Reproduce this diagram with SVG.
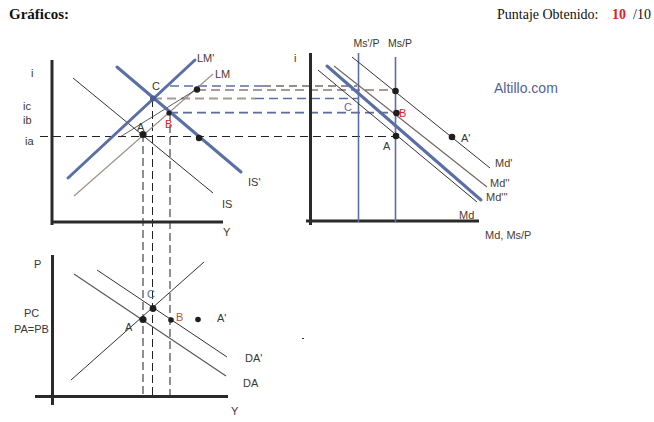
<svg xmlns="http://www.w3.org/2000/svg" width="654" height="422" viewBox="0 0 654 422">
<style>
.ax{stroke:#2a2a2a;stroke-width:3;fill:none}
.thin{stroke:#333;stroke-width:1;fill:none}
.taupe{stroke:#9c8f88;stroke-width:1.1;fill:none}
.blue{stroke:#5a6fa5;stroke-width:3;fill:none;stroke-linecap:round}
.vblue{stroke:#5a6fa5;stroke-width:1.6;fill:none}
.dk{stroke:#222;stroke-width:1.1;stroke-dasharray:8,5;fill:none}
.dt{stroke:#a89a92;stroke-width:2;stroke-dasharray:9,5;fill:none}
.db{stroke:#5a6fa5;stroke-width:1.6;stroke-dasharray:9,5;fill:none}
.dv{stroke:#222;stroke-width:1;stroke-dasharray:8,4;fill:none}
.dot{fill:#1e1e1e}
text{font-family:"Liberation Sans",Arial,sans-serif;font-size:11px;fill:#3a3633}
.red{fill:#e02020}
.org{fill:#b8582e}
.hdr{font-family:"Liberation Serif","Times New Roman",serif;font-size:14px;fill:#111}
</style>
<rect width="654" height="422" fill="#fff"/>
<g id="header">
<text class="hdr" x="9" y="19" style="font-weight:bold;font-size:15px">Gráficos:</text>
<text class="hdr" x="497" y="19">Puntaje Obtenido:</text>
<text class="hdr red" x="612" y="19" style="font-weight:bold;fill:#e02020">10</text>
<text class="hdr" x="633" y="19">/10</text>
<text x="494" y="93" style="font-size:14px;fill:#55609a">Altillo.com</text>
</g>
<g id="connectors">
<line class="db" x1="170" y1="86" x2="263" y2="86"/>
<line class="dk" x1="263" y1="86" x2="357" y2="86"/>
<line class="dt" x1="197" y1="90" x2="395" y2="90"/>
<line class="dt" x1="153" y1="98.5" x2="255" y2="98.5"/>
<line class="db" x1="255" y1="98.5" x2="358" y2="98.5"/>
<line class="dt" x1="169" y1="113.5" x2="396" y2="113.5" style="stroke-width:1.2;opacity:0.6"/>
<line class="db" x1="169" y1="112.5" x2="396" y2="112.5"/>
<line class="dk" x1="40" y1="136.5" x2="396" y2="136.5"/>
<line class="dv" x1="143" y1="134" x2="143" y2="397"/>
<line class="dv" x1="152.5" y1="99" x2="152.5" y2="397"/>
<line class="dv" x1="170" y1="113" x2="170" y2="397"/>
</g>
<g id="chart-islm">
<line class="ax" x1="52" y1="60" x2="52" y2="225"/>
<line class="ax" x1="51" y1="222" x2="223" y2="222"/>
<line class="thin" x1="73" y1="78" x2="213" y2="193"/>
<line class="taupe" x1="74" y1="196" x2="213" y2="74"/>
<line class="thin" x1="120" y1="137" x2="197" y2="89" style="stroke-width:0.8"/>
<line class="blue" x1="68" y1="178" x2="195" y2="60"/>
<line class="blue" x1="117" y1="67" x2="241" y2="172"/>
<circle class="dot" cx="143" cy="134.5" r="3.6"/>
<circle cx="153" cy="98.5" r="3" fill="#4a5d90"/>
<circle class="dot" cx="169" cy="113" r="2.6"/>
<circle class="dot" cx="197" cy="89.5" r="3.2"/>
<circle class="dot" cx="199" cy="138" r="3.2"/>
<text x="31" y="77">i</text>
<text x="23" y="110">ic</text>
<text x="23" y="124">ib</text>
<text x="25" y="145">ia</text>
<text x="197" y="62" style="fill:#4e3a30">LM'</text>
<text x="215" y="78" style="fill:#4e3a30">LM</text>
<text x="152" y="90">C</text>
<text x="137" y="131">A</text>
<text class="red" x="165" y="128">B</text>
<text x="248" y="186">IS'</text>
<text x="222" y="208">IS</text>
<text x="223" y="236">Y</text>
</g>
<g id="chart-money">
<line class="ax" x1="310.5" y1="53" x2="310.5" y2="225"/>
<line class="ax" x1="306" y1="221" x2="479" y2="221"/>
<line class="vblue" x1="358.5" y1="53" x2="358.5" y2="222"/>
<line class="vblue" x1="395.5" y1="57" x2="395.5" y2="222"/>
<line class="thin" x1="352" y1="57" x2="490" y2="168"/>
<line class="taupe" x1="334" y1="66" x2="487" y2="187" style="stroke:#6e6460"/>
<line class="thin" x1="318" y1="70" x2="477" y2="202"/>
<line class="blue" x1="327" y1="66" x2="481" y2="200"/>
<circle class="dot" cx="395.5" cy="91" r="3.3"/>
<circle class="dot" cx="396.5" cy="113" r="3.3"/>
<circle class="dot" cx="396" cy="136" r="3.3"/>
<circle class="dot" cx="452" cy="137" r="3.3"/>
<text x="294" y="62">i</text>
<text x="366.5" y="47" text-anchor="middle" style="font-size:10.5px">Ms'/P</text>
<text x="400" y="47" text-anchor="middle" style="font-size:10.5px">Ms/P</text>
<text x="344" y="111" style="fill:#5a6a9a">C</text>
<text class="red" x="399" y="117">B</text>
<text x="383" y="150">A</text>
<text x="461" y="142">A'</text>
<text x="495" y="167" style="fill:#4e3a30">Md'</text>
<text x="490" y="187" style="fill:#4e3a30">Md''</text>
<text x="486" y="201" style="fill:#4e3a30">Md'''</text>
<text x="459" y="219" style="fill:#4e3a30">Md</text>
<text x="485" y="239" style="fill:#4e3a30">Md, Ms/P</text>
</g>
<g id="chart-dao">
<line class="ax" x1="52.5" y1="255" x2="52.5" y2="405"/>
<line class="ax" x1="35" y1="396.5" x2="228" y2="396.5"/>
<line class="thin" x1="71" y1="380" x2="204" y2="262"/>
<line class="taupe" x1="74" y1="274" x2="226" y2="376" style="stroke:#555"/>
<line class="thin" x1="97" y1="270" x2="227" y2="357"/>
<circle class="dot" cx="143" cy="319.5" r="3.6"/>
<circle class="dot" cx="153" cy="308.5" r="3.4"/>
<circle class="dot" cx="171" cy="320" r="2.8"/>
<circle class="dot" cx="198" cy="319.5" r="2.8"/>
<rect x="302" y="338" width="2" height="1" fill="#333"/>
<text x="34" y="268">P</text>
<text x="24" y="317">PC</text>
<text x="14" y="333">PA=PB</text>
<text x="125" y="331">A</text>
<text x="147" y="298" style="fill:#5a6a9a">C</text>
<text class="org" x="176" y="321">B</text>
<text x="217" y="322">A'</text>
<text x="245" y="362">DA'</text>
<text x="243" y="387">DA</text>
<text x="231" y="415">Y</text>
</g>
</svg>
